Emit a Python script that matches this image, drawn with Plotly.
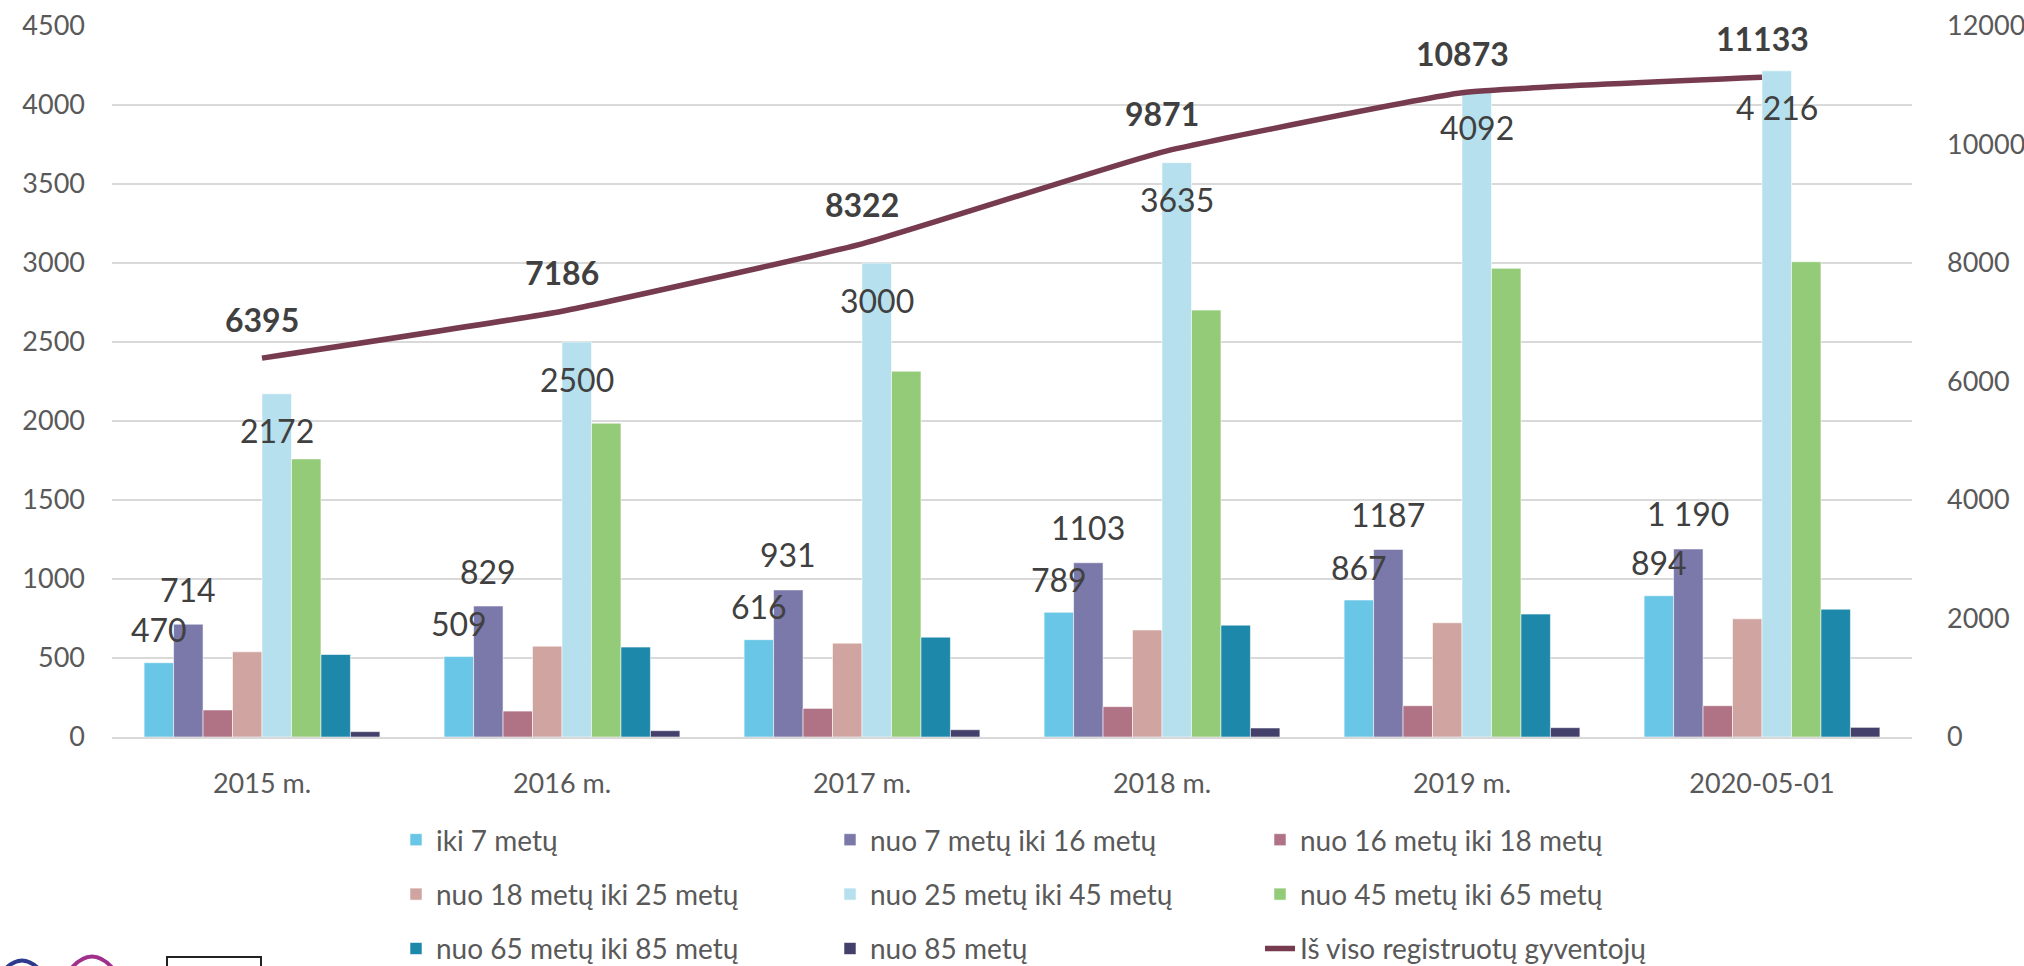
import plotly.graph_objects as go

# ---------------- data ----------------
categories = ["2015 m.", "2016 m.", "2017 m.", "2018 m.", "2019 m.", "2020-05-01"]

series_names = [
    "iki 7 metų",
    "nuo 7 metų iki 16 metų",
    "nuo 16 metų iki 18 metų",
    "nuo 18 metų iki 25 metų",
    "nuo 25 metų iki 45 metų",
    "nuo 45 metų iki 65 metų",
    "nuo 65 metų iki 85 metų",
    "nuo 85 metų",
]
iki7 = [470, 509, 616, 789, 867, 894]
nuo7_16 = [714, 829, 931, 1103, 1187, 1190]
nuo16_18 = [171, 164, 181, 192, 198, 198]
nuo18_25 = [539, 575, 594, 677, 723, 748]
nuo25_45 = [2172, 2500, 3000, 3635, 4092, 4216]
nuo45_65 = [1760, 1986, 2315, 2702, 2966, 3008]
nuo65_85 = [522, 569, 632, 708, 778, 809]
nuo85 = [34, 40, 46, 57, 59, 61]

total_name = "Iš viso registruotų gyventojų"
totals = [6395, 7186, 8322, 9871, 10873, 11133]

# label texts as shown on the chart
iki7_labels = ["470", "509", "616", "789", "867", "894"]
nuo7_16_labels = ["714", "829", "931", "1103", "1187", "1 190"]
nuo25_45_labels = ["2172", "2500", "3000", "3635", "4092", "4 216"]
total_labels = ["6395", "7186", "8322", "9871", "10873", "11133"]

left_ticks = [0, 500, 1000, 1500, 2000, 2500, 3000, 3500, 4000, 4500]
right_ticks = [0, 2000, 4000, 6000, 8000, 10000, 12000]

# ---------------- style ----------------
colors = ["#69C6E6", "#7B79A9", "#B07285", "#D0A5A1",
          "#B6E0EE", "#94CB79", "#1E88AA", "#43416B"]
line_color = "#763B4F"
FONT = "Lato, 'Liberation Sans', Arial, sans-serif"
W, H = 2024, 966
ML, MR, MT, MB = 112, 112, 26, 229
BARGAP = 0.214

values = [iki7, nuo7_16, nuo16_18, nuo18_25, nuo25_45, nuo45_65, nuo65_85, nuo85]
legend_of = ["legend", "legend2", "legend3", "legend", "legend2", "legend3", "legend", "legend2"]

fig = go.Figure()
for k, (name, vals) in enumerate(zip(series_names, values)):
    fig.add_trace(go.Bar(
        x=categories, y=vals, name=name,
        marker=dict(color=colors[k], line=dict(color="rgba(255,255,255,0.55)", width=1)),
        legend=legend_of[k], legendgroup=f"g{k}",
        yaxis="y",
    ))

fig.add_trace(go.Scatter(
    x=categories, y=totals, name=total_name, mode="lines",
    line=dict(color=line_color, width=5.5, shape="spline", smoothing=0.35),
    yaxis="y2", legend="legend3", legendgroup="g8",
))

# ---------------- data labels ----------------
nbars = len(values)
bw = (1 - BARGAP) / nbars
def off(k):
    return (k - (nbars - 1) / 2) * bw

ann = []
lab_font = dict(family=FONT, size=32, color="#404040")
for i in range(len(categories)):
    ann.append(dict(x=i + off(0), y=iki7[i], xref="x", yref="y", text=iki7_labels[i],
                    showarrow=False, yanchor="middle", yshift=33, font=lab_font))
    ann.append(dict(x=i + off(1), y=nuo7_16[i], xref="x", yref="y", text=nuo7_16_labels[i],
                    showarrow=False, yanchor="middle", yshift=35, font=lab_font))
    ann.append(dict(x=i + off(4), y=nuo25_45[i], xref="x", yref="y", text=nuo25_45_labels[i],
                    showarrow=False, yanchor="middle", yshift=-37, font=lab_font))
    ann.append(dict(x=i, y=totals[i], xref="x", yref="y2", text="<b>" + total_labels[i] + "</b>",
                    showarrow=False, yanchor="middle", yshift=39, font=lab_font))

# ---------------- decorative logo fragment (bottom-left, cropped) ----------------
pw = W - ML - MR
ph = H - MT - MB
def px(xp):
    return (xp - ML) / pw
def py(yp):
    return (H - MB - yp) / ph

shapes = [
    dict(type="rect", xref="paper", yref="paper",
         x0=px(167), x1=px(261), y0=py(990), y1=py(957),
         line=dict(color="#222222", width=2), fillcolor="rgba(0,0,0,0)"),
    dict(type="path", xref="paper", yref="paper",
         path=f"M {px(0)},{py(975)} Q {px(22)},{py(946)} {px(44)},{py(975)}",
         line=dict(color="#2E3A8C", width=4), fillcolor="rgba(0,0,0,0)"),
    dict(type="path", xref="paper", yref="paper",
         path=f"M {px(66)},{py(975)} Q {px(92)},{py(938)} {px(118)},{py(975)}",
         line=dict(color="#A0308C", width=4), fillcolor="rgba(0,0,0,0)"),
]

leg_common = dict(orientation="v", xanchor="left", yanchor="top",
                  xref="container", yref="container",
                  font=dict(family=FONT, size=28, color="#595959"),
                  bgcolor="rgba(0,0,0,0)", traceorder="grouped", tracegroupgap=15,
                  itemclick=False, itemdoubleclick=False)
leg_top = 1 - 815 / H

fig.update_layout(
    width=W, height=H,
    margin=dict(l=ML, r=MR, t=MT, b=MB, pad=0, autoexpand=False),
    paper_bgcolor="white", plot_bgcolor="white",
    font=dict(family=FONT, size=27, color="#595959"),
    barmode="group", bargap=BARGAP, bargroupgap=0,
    xaxis=dict(type="category", categoryorder="array", categoryarray=categories,
               showgrid=False, showline=True, linecolor="#D9D9D9", linewidth=2,
               ticks="", ticklabelstandoff=22, automargin=False,
               tickfont=dict(family=FONT, size=27, color="#595959")),
    yaxis=dict(range=[0, 4500], tickvals=left_ticks, showgrid=True,
               gridcolor="#D9D9D9", gridwidth=2, zeroline=False, showline=False,
               ticks="", ticklabelstandoff=26, automargin=False,
               tickfont=dict(family=FONT, size=27, color="#595959")),
    yaxis2=dict(range=[0, 12000], tickvals=right_ticks, tickformat="d",
                overlaying="y", side="right",
                showgrid=False, zeroline=False, showline=False, ticks="",
                ticklabelstandoff=34, automargin=False,
                tickfont=dict(family=FONT, size=27, color="#595959")),
    legend=dict(x=396 / W, y=leg_top, **leg_common),
    legend2=dict(x=830 / W, y=leg_top, **leg_common),
    legend3=dict(x=1260 / W, y=leg_top, **leg_common),
    annotations=ann,
    shapes=shapes,
    showlegend=True,
)

fig.write_html(
    "out.html",
    config={"displayModeBar": False},
    post_script="document.body.style.margin='0px';document.body.style.padding='0px';",
)
